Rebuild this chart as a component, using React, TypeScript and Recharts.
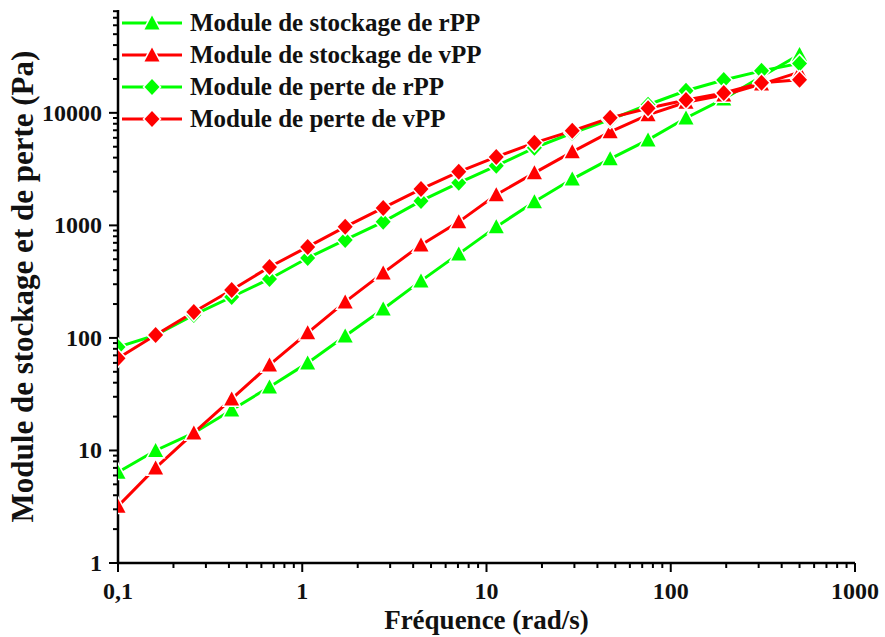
import React from 'react';
import { LineChart, Line, XAxis, YAxis, Legend } from 'recharts';

// frequency (rad/s)
const freq = [0.1, 0.16, 0.258, 0.414, 0.664, 1.07, 1.71, 2.75, 4.41, 7.07, 11.3, 18.2, 29.2, 46.9, 75.3, 121, 194, 311, 500];

// moduli (Pa)
const storageRpp = [6.4, 10, 14.3, 22.9, 36.7, 60, 104, 181, 321, 558, 970, 1620, 2580, 3900, 5750, 9000, 13300, 21000, 33000];
const storageVpp = [3.2, 7.0, 14.3, 28.7, 57.5, 111, 209, 378, 671, 1075, 1870, 2930, 4500, 6780, 9600, 12400, 14400, 18000, 23000];
const lossRpp = [83, 106, 160, 231, 334, 513, 742, 1075, 1650, 2390, 3380, 4890, 6620, 8700, 11800, 15700, 19600, 23600, 27500];
const lossVpp = [66, 106, 170, 267, 427, 644, 970, 1430, 2100, 2990, 4060, 5410, 6920, 9030, 11000, 13000, 15000, 18500, 19700];

const xMajor = [0.1, 1, 10, 100, 1000];
const xTickLabels = ['0,1', '1', '10', '100', '1000'];
const yMajor = [1, 10, 100, 1000, 10000];
const yTickLabels = ['1', '10', '100', '1000', '10000'];

const GREEN = '#00FF00';
const RED = '#FF0000';
const FONT = "'Liberation Serif', 'Times New Roman', serif";

const series = [
  { key: 'sr', name: 'Module de stockage de rPP', color: GREEN, shape: 'tri' },
  { key: 'sv', name: 'Module de stockage de vPP', color: RED, shape: 'tri' },
  { key: 'lr', name: 'Module de perte de rPP', color: GREEN, shape: 'dia' },
  { key: 'lv', name: 'Module de perte de vPP', color: RED, shape: 'dia' },
];

const data = freq.map((f, i) => ({
  f,
  sr: storageRpp[i],
  sv: storageVpp[i],
  lr: lossRpp[i],
  lv: lossVpp[i],
}));

// log ticks with minors (2..9 per decade)
const logTicks = (from: number, to: number, max: number) => {
  const out: number[] = [];
  for (let e = from; e <= to; e++) {
    for (let m = 1; m <= 9; m++) {
      const v = Number((m * Math.pow(10, e)).toPrecision(3));
      if (v <= max) out.push(v);
    }
  }
  return out;
};
const xTicks = logTicks(-1, 3, 1000);
const yTicks = logTicks(0, 4, 82000);

const shapePath = (shape: string, cx: number, cy: number, s = 1) =>
  shape === 'tri'
    ? `M${cx},${cy - 7.5 * s} L${cx + 7.5 * s},${cy + 6.5 * s} L${cx - 7.5 * s},${cy + 6.5 * s} Z`
    : `M${cx},${cy - 8 * s} L${cx + 7.5 * s},${cy} L${cx},${cy + 8 * s} L${cx - 7.5 * s},${cy} Z`;

const makeDot = (shape: string, color: string) => (p: any) => {
  if (p.cx == null || p.cy == null) return <g key={p.index} />;
  return (
    <path
      key={p.index}
      d={shapePath(shape, p.cx, p.cy)}
      fill={color}
      stroke="#fff"
      strokeWidth={3}
      paintOrder="stroke"
    />
  );
};

const XTick = (props: any) => {
  const { x, y, payload } = props;
  const i = xMajor.indexOf(payload.value);
  const major = i >= 0;
  return (
    <g>
      <line x1={x} x2={x} y1={y} y2={y + (major ? 9 : 5)} stroke="#000" strokeWidth={2} />
      {major && (
        <text x={x} y={y + 36} textAnchor="middle" fontFamily={FONT} fontWeight="bold" fontSize={24} fill="#111">
          {xTickLabels[i]}
        </text>
      )}
    </g>
  );
};

const YTick = (props: any) => {
  const { x, y, payload } = props;
  const i = yMajor.indexOf(payload.value);
  const major = i >= 0;
  return (
    <g>
      <line x1={x} x2={x - (major ? 9 : 5)} y1={y} y2={y} stroke="#000" strokeWidth={2} />
      {major && (
        <text x={x - 16} y={y + 8} textAnchor="end" fontFamily={FONT} fontWeight="bold" fontSize={24} fill="#111">
          {yTickLabels[i]}
        </text>
      )}
    </g>
  );
};

const renderLegend = () => (
  <svg width={420} height={135}>
    {series.map((s, i) => {
      const cy = 15 + i * 32;
      return (
        <g key={s.key}>
          <line x1={2} x2={62} y1={cy} y2={cy} stroke={s.color} strokeWidth={3} />
          <path d={shapePath(s.shape, 32, cy)} fill={s.color} stroke="#fff" strokeWidth={3} paintOrder="stroke" />
          <text x={70} y={cy + 8} fontFamily={FONT} fontWeight="bold" fontSize={25} fill="#111">
            {s.name}
          </text>
        </g>
      );
    })}
  </svg>
);

export default function App() {
  return (
    <div style={{ position: 'absolute', left: 0, top: 0, background: '#fff' }}>
      <LineChart width={885} height={637} data={data} margin={{ top: 10, right: 30, left: 0, bottom: 0 }}>
        <XAxis
          dataKey="f"
          type="number"
          scale="log"
          domain={[0.1, 1000]}
          allowDataOverflow
          ticks={xTicks}
          interval={0}
          tickSize={0}
          tickMargin={0}
          tickLine={false}
          tick={<XTick />}
          height={74}
          axisLine={{ stroke: '#000', strokeWidth: 2.5 }}
          label={{
            value: 'Fréquence (rad/s)',
            position: 'insideBottom',
            offset: 8,
            style: { fontFamily: FONT, fontWeight: 'bold', fontSize: 27, fill: '#111' },
          }}
        />
        <YAxis
          type="number"
          scale="log"
          domain={[1, 82000]}
          allowDataOverflow
          ticks={yTicks}
          interval={0}
          tickSize={0}
          tickMargin={0}
          tickLine={false}
          tick={<YTick />}
          width={118}
          axisLine={{ stroke: '#000', strokeWidth: 2.5 }}
          label={{
            value: 'Module de stockage et de perte (Pa)',
            angle: -90,
            position: 'insideLeft',
            offset: 22,
            style: { fontFamily: FONT, fontWeight: 'bold', fontSize: 31, fill: '#111', textAnchor: 'middle' },
          }}
        />
        <Legend
          layout="vertical"
          align="center"
          verticalAlign="middle"
          content={renderLegend}
          wrapperStyle={{ position: 'absolute', left: 120, top: 8, width: 420 }}
        />
        {series.map((s) => (
          <Line
            key={s.key}
            dataKey={s.key}
            name={s.name}
            stroke={s.color}
            strokeWidth={3}
            dot={makeDot(s.shape, s.color)}
            activeDot={false}
            isAnimationActive={false}
          />
        ))}
      </LineChart>
    </div>
  );
}
